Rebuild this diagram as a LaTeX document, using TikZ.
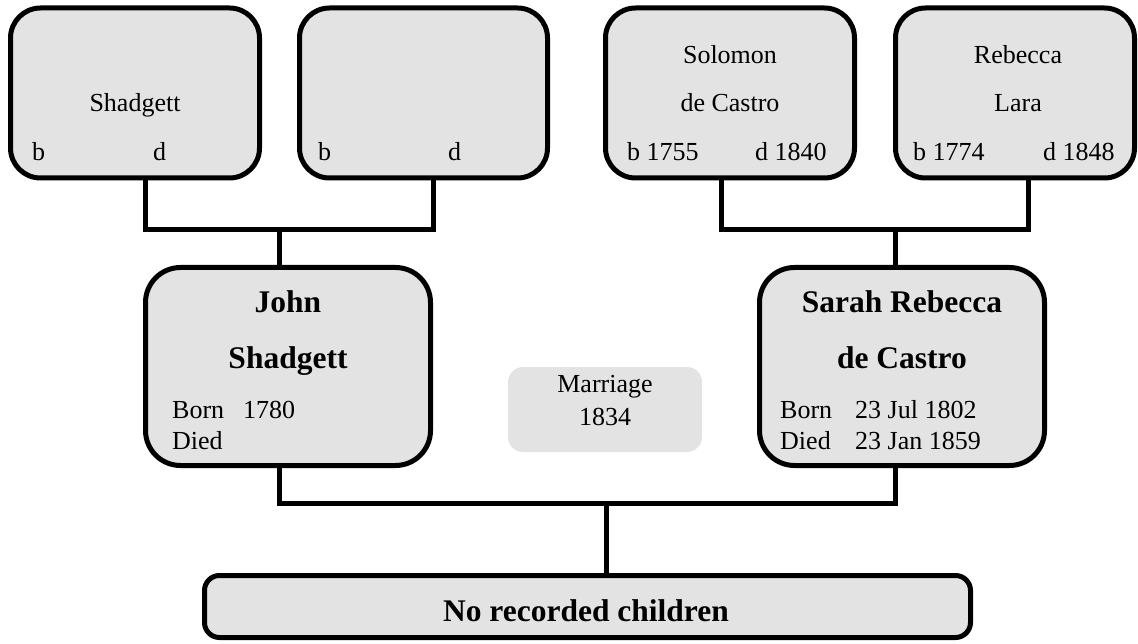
\documentclass[tikz,border=0pt]{standalone}
\usepackage{fontspec}
\setmainfont{Liberation Serif}
\definecolor{boxgray}{HTML}{E3E3E3}
\begin{document}
\begin{tikzpicture}[x=1pt,y=-1pt,
  person/.style={draw=black, fill=boxgray, line width=5pt, rounded corners=#1, inner sep=0pt},
  plainbox/.style={fill=boxgray, rounded corners=15pt, inner sep=0pt},
  link/.style={draw=black, line width=5pt},
  txt/.style={anchor=base, inner sep=0pt, font=\fontsize{26}{30}\selectfont},
  ltxt/.style={txt, anchor=base west},
  bold/.style={anchor=base, inner sep=0pt, font=\fontsize{31.5}{36}\selectfont\bfseries}
]
\useasboundingbox (0,0) rectangle (1138,644);

% junction points of the family lines
\coordinate (jA) at (279,230);
\coordinate (jB) at (895,230);
\coordinate (jC) at (606,503);

% boxes (shapes only; texts are placed separately)
\node[person=30pt, minimum width=249pt, minimum height=170pt] (gf1) at (135,93) {};
\node[person=30pt, minimum width=248pt, minimum height=170pt] (gf2) at (423.5,93) {};
\node[person=30pt, minimum width=249pt, minimum height=170pt] (gm1) at (730,93) {};
\node[person=30pt, minimum width=239pt, minimum height=170pt] (gm2) at (1015,93) {};
\node[person=35pt, minimum width=285pt, minimum height=198pt] (john) at (288,366.5) {};
\node[person=35pt, minimum width=285pt, minimum height=198pt] (sarah) at (902,366.5) {};
\node[person=15pt, minimum width=766pt, minimum height=62pt] (kids) at (587.5,606.5) {};
\node[plainbox, minimum width=194pt, minimum height=85pt] (marriage) at (605,409.5) {};

% family lines
\draw[link] ([xshift=10pt]gf1.south) |- (jA) -| ([xshift=9.5pt]gf2.south);
\draw[link] (jA) -- (jA |- john.north);
\draw[link] ([xshift=-9pt]gm1.south) |- (jB) -| ([xshift=13pt]gm2.south);
\draw[link] (jB) -- (jB |- sarah.north);
\draw[link] (jA |- john.south) |- (jC) -| (jB |- sarah.south);
\draw[link] (jC) -- (jC |- kids.north);

% paternal grandparents
\node[txt] (gf1name) at (135,112) {Shadgett};
\node[ltxt] (gf1b) at (32,161) {b};
\node[ltxt] (gf1d) at (153,161) {d};
\node[ltxt] (gf2b) at (318,161) {b};
\node[ltxt] (gf2d) at (448,161) {d};

% maternal grandparents
\node[txt] (gm1first) at (730,64) {Solomon};
\node[txt] (gm1last) at (730,112) {de Castro};
\node[ltxt] (gm1b) at (627,161) {b 1755};
\node[ltxt] (gm1d) at (755,161) {d 1840};
\node[txt] (gm2first) at (1018,64) {Rebecca};
\node[txt] (gm2last) at (1018,112) {Lara};
\node[ltxt] (gm2b) at (913,161) {b 1774};
\node[ltxt] (gm2d) at (1043,161) {d 1848};

% husband
\node[bold] (johnfirst) at (288,313) {John};
\node[bold] (johnlast) at (288,368) {Shadgett};
\node[ltxt] (johnbl) at (172,418) {Born};
\node[ltxt] (johnbv) at (243,418) {1780};
\node[ltxt] (johndl) at (172,449) {Died};

% wife
\node[bold] (sarahfirst) at (902,313) {Sarah Rebecca};
\node[bold] (sarahlast) at (902,368) {de Castro};
\node[ltxt] (sarahbl) at (780,418) {Born};
\node[ltxt] (sarahbv) at (855,418) {23 Jul 1802};
\node[ltxt] (sarahdl) at (780,449) {Died};
\node[ltxt] (sarahdv) at (855,449) {23 Jan 1859};

% marriage
\node[txt] (marr1) at (605,392) {Marriage};
\node[txt] (marr2) at (605,425) {1834};

% children
\node[bold] (kidstext) at (586,621) {No recorded children};
\end{tikzpicture}
\end{document}
